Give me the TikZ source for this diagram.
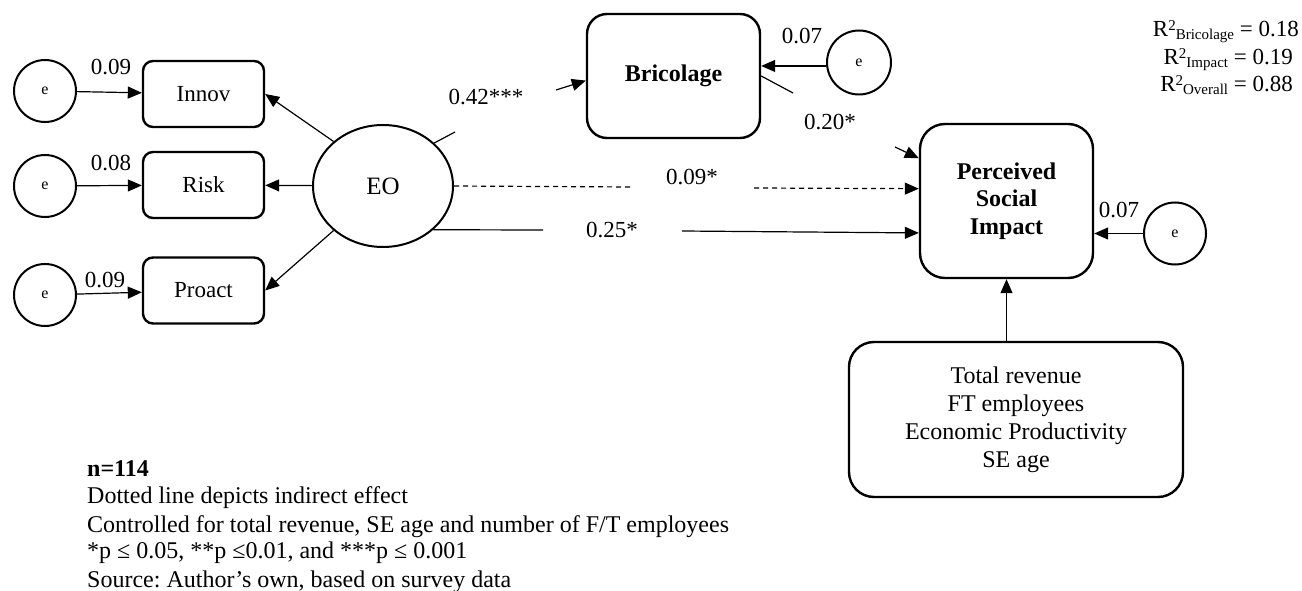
\documentclass[tikz,border=0pt]{standalone}
\usepackage{fontspec}
\setmainfont{Liberation Serif}
\usetikzlibrary{arrows.meta,shapes.geometric}
% raised and lowered indices for the R-squared lines
\newcommand\rsup[1]{\raisebox{6pt}{\fontsize{15}{15}\selectfont #1}}
\newcommand\rsub[1]{\raisebox{-3pt}{\fontsize{15}{15}\selectfont #1}}
\begin{document}
\begin{tikzpicture}[x=1pt,y=-1pt,
  box/.style={draw,line width=2.4pt,rounded corners=10pt,minimum width=121pt,minimum height=66pt,
    inner sep=0pt,font=\fontsize{23}{27}\selectfont},
  err/.style={draw,circle,line width=2pt,minimum size=62pt,inner sep=0pt,font=\fontsize{16}{19}\selectfont},
  arr/.style={line width=1.2pt,-{Triangle[length=14pt,width=12pt]}},
  link/.style={line width=1.2pt},
  indirect/.style={dash pattern=on 5pt off 4pt},
  coef/.style={font=\fontsize{23}{27}\selectfont,inner sep=0pt,anchor=base},
  note/.style={font=\fontsize{24}{27}\selectfont\frenchspacing,inner sep=0pt,anchor=base west},
  rsq/.style={font=\fontsize{23}{27}\selectfont,inner sep=0pt,anchor=base east}]

\path[use as bounding box,fill=white] (0,0) rectangle (1302,591);

% error terms
\node[err] (e1) at (45,91) {e};
\node[err] (e2) at (45,186) {e};
\node[err] (e3) at (45,295) {e};

% EO indicators
\node[box] (innov) at (203.5,94) {Innov};
\node[box] (risk) at (203.5,185) {Risk};
\node[box] (proact) at (203.5,290.5) {Proact};

% latent construct
\node[draw,ellipse,line width=2pt,minimum width=140pt,minimum height=122pt,inner sep=0pt,
  font=\fontsize{25}{30}\selectfont] (eo) at (383,186) {EO};

% mediator and outcome
\node[box,minimum width=173pt,minimum height=124pt,rounded corners=20pt,
  font=\fontsize{24}{28}\selectfont\bfseries] (bric) at (673.5,76) {Bricolage};
\node[err,minimum size=64pt] (eb) at (859,62.5) {e};
\node[box,minimum width=173pt,minimum height=154pt,rounded corners=25pt,align=center,
  font=\fontsize{24}{27.5}\selectfont\bfseries] (psi) at (1006.5,201) {Perceived\\Social\\Impact};
\node[err] (ep) at (1175,233.5) {e};
\node[box,minimum width=334pt,minimum height=155pt,rounded corners=25pt,align=center,
  font=\fontsize{24}{28}\selectfont] (ctrl) at (1016,419.5) {Total revenue\\FT employees\\Economic Productivity\\SE age};

% measurement paths
\draw[arr] (e1) -- (innov);
\draw[arr] (e2) -- (risk);
\draw[arr] (e3) -- (proact);
\draw[arr] (eo.138) -- (innov.east);
\draw[arr] (eo) -- (risk);
\draw[arr] (eo.222) -- (proact.east);

% structural paths, broken around their coefficients
\coordinate (bA) at (455,132);
\coordinate (bB) at (556,90);
\draw[link] (eo.40) -- (bA);
\draw[arr] (bB) -- (bric.183);

\coordinate (dA) at (630,187);
\coordinate (dB) at (754,188);
\draw[link,indirect] (eo.east) -- (dA);
\draw[arr,indirect] (dB) -- (psi.172);

\coordinate (sA) at (543,230);
\coordinate (sB) at (682,231);
\draw[link] (eo.319) -- (sA);
\draw[arr] (sB) -- (psi.200);

\coordinate (pA) at (793,93);
\coordinate (pB) at (895,147);
\draw[link] (bric.east) -- (pA);
\draw[arr] (pB) -- (psi.154);

\draw[arr] (eb.186) -- (eb.186 -| bric.east);
\draw[arr] (ep.west) -- (ep.west -| psi.east);
\draw[arr] (psi.south |- ctrl.north) -- (psi.south);

% coefficients
\node[coef] (l1) at (111,75) {0.09};
\node[coef] (l2) at (111,171) {0.08};
\node[coef] (l3) at (105,287) {0.09};
\node[coef] (l4) at (486,105) {0.42***};
\node[coef] (l5) at (802,44) {0.07};
\node[coef] (l6) at (830,130) {0.20*};
\node[coef] (l7) at (692,185) {0.09*};
\node[coef] (l8) at (612,237) {0.25*};
\node[coef] (l9) at (1119,217) {0.07};

% explained variance
\node[rsq] (r1) at (1299,37) {R\rsup{2}\rsub{Bricolage} = 0.18};
\node[rsq] (r2) at (1293,65) {R\rsup{2}\rsub{Impact} = 0.19};
\node[rsq] (r3) at (1293,92) {R\rsup{2}\rsub{Overall} = 0.88};

% notes
\node[note,font=\fontsize{24}{27}\selectfont\bfseries] (n1) at (87,476) {n=114};
\node[note] (n2) at (87,503) {Dotted line depicts indirect effect};
\node[note] (n3) at (87,532) {Controlled for total revenue, SE age and number of F/T employees};
\node[note] (n4) at (87,558) {*p ≤ 0.05, **p ≤0.01, and ***p ≤ 0.001};
\node[note] (n5) at (87,587) {Source: Author’s own, based on survey data};
\end{tikzpicture}
\end{document}
